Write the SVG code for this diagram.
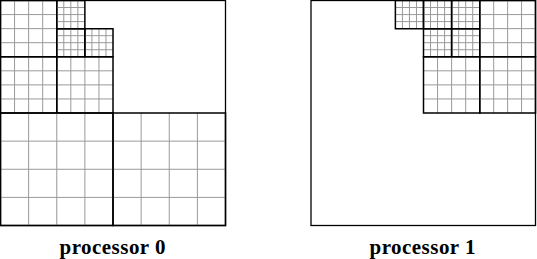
<svg xmlns="http://www.w3.org/2000/svg" xmlns:xlink="http://www.w3.org/1999/xlink" width="537" height="259" viewBox="0 0 537 259">
<style>
.grid{fill:none;stroke:#999;stroke-width:1;vector-effect:non-scaling-stroke}
.blk{fill:none;stroke:#000;stroke-width:1.5;vector-effect:non-scaling-stroke}
.outer{fill:none;stroke:#000;stroke-width:1.3}
.lbl{font-family:"Liberation Serif","Times New Roman",serif;font-weight:bold;font-size:21px;fill:#000;text-anchor:middle}
</style>
<defs>
<g id="g4">
<path class="grid" d="M1 0V4M2 0V4M3 0V4M0 1H4M0 2H4M0 3H4"/>
<rect class="blk" x="0" y="0" width="4" height="4"/>
</g>
</defs>
<rect width="537" height="259" fill="#fff"/>
<g id="processor0" transform="translate(0.5,0.5)">
<rect class="outer" x="0" y="0" width="225" height="225"/>
<g id="p0-medium">
<use xlink:href="#g4" transform="translate(0,0) scale(14.0625)"/>
<use xlink:href="#g4" transform="translate(0,56.25) scale(14.0625)"/>
<use xlink:href="#g4" transform="translate(56.25,56.25) scale(14.0625)"/>
</g>
<g id="p0-coarse">
<use xlink:href="#g4" transform="translate(0,112.5) scale(28.125)"/>
<use xlink:href="#g4" transform="translate(112.5,112.5) scale(28.125)"/>
</g>
<g id="p0-fine">
<use xlink:href="#g4" transform="translate(56.25,0) scale(7.03125)"/>
<use xlink:href="#g4" transform="translate(56.25,28.125) scale(7.03125)"/>
<use xlink:href="#g4" transform="translate(84.375,28.125) scale(7.03125)"/>
</g>
</g>
<g id="processor1" transform="translate(311,0.5)">
<rect class="outer" x="0" y="0" width="224.5" height="225"/>
<g id="p1-fine">
<use xlink:href="#g4" transform="translate(84.375,0) scale(7.03125)"/>
<use xlink:href="#g4" transform="translate(112.5,0) scale(7.03125)"/>
<use xlink:href="#g4" transform="translate(140.625,0) scale(7.03125)"/>
<use xlink:href="#g4" transform="translate(112.5,28.125) scale(7.03125)"/>
<use xlink:href="#g4" transform="translate(140.625,28.125) scale(7.03125)"/>
</g>
<g id="p1-medium">
<use xlink:href="#g4" transform="translate(168.75,0) scale(13.9375 14.0625)"/>
<use xlink:href="#g4" transform="translate(112.5,56.25) scale(14.0625)"/>
<use xlink:href="#g4" transform="translate(168.75,56.25) scale(13.9375 14.0625)"/>
</g>
</g>
<g id="labels">
<text class="lbl" x="112.5" y="254" textLength="106" lengthAdjust="spacing">processor 0</text>
<text class="lbl" x="422.5" y="254" textLength="106" lengthAdjust="spacing">processor 1</text>
</g>
</svg>
